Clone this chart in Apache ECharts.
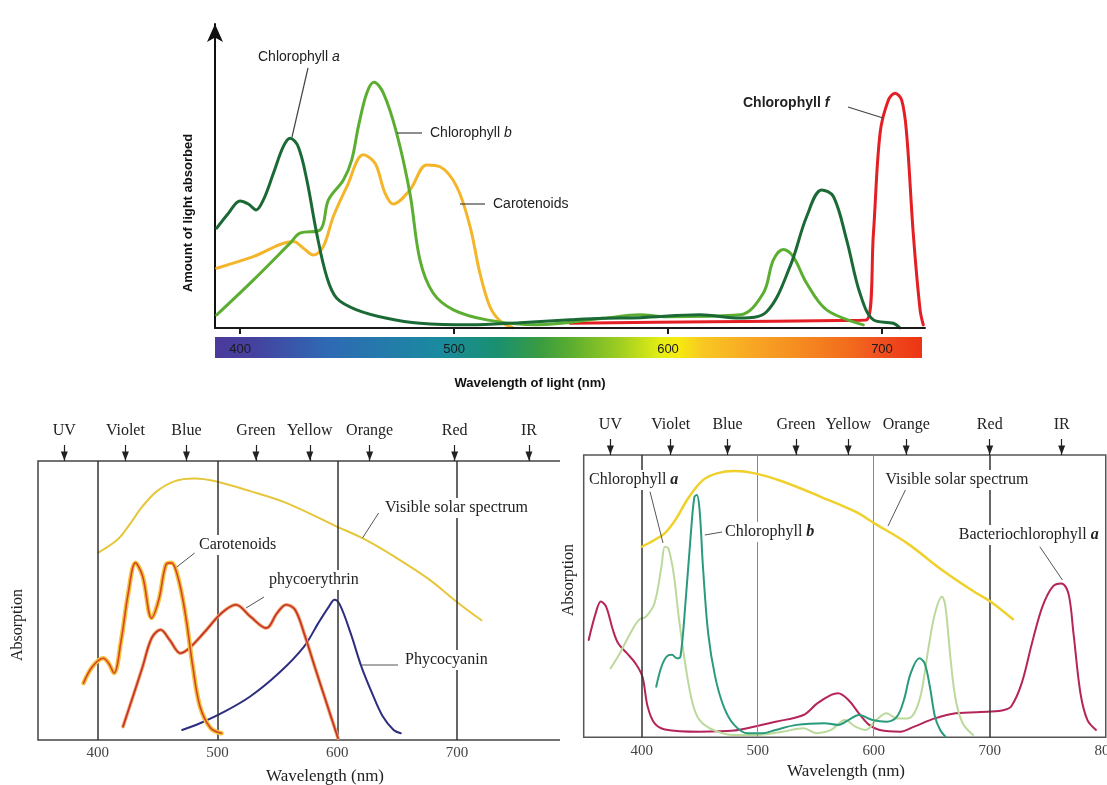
<!DOCTYPE html>
<html><head><meta charset="utf-8">
<script src="https://cdn.jsdelivr.net/npm/echarts@6/dist/echarts.min.js"></script>
<style>
html,body{margin:0;padding:0;background:#fff;width:1107px;height:785px;overflow:hidden;}
#top{position:absolute;left:0;top:0;width:1107px;height:400px;}
#blWrap{position:absolute;left:0;top:400px;width:560px;height:385px;overflow:hidden;}
#bl{position:absolute;left:0;top:0;width:620px;height:385px;}
#br{position:absolute;left:560px;top:400px;width:560px;height:385px;}
</style></head><body>
<div id="top"></div><div id="blWrap"><div id="bl"></div></div><div id="br"></div>
<script>
// ---------- TOP PANEL DATA (wavelength nm, relative absorption) ----------
var topTicks = [400, 500, 600, 700];
var topChlA = [[389.1,31.9],[394.5,36.6],[400,40.6],[403.9,39.6],[407.5,37.7],[410.9,40.9],[415.6,49.4],[420.2,57.9],[423.4,60.6],[427.2,57.9],[431.2,47.3],[435.8,30.3],[440.5,16.4],[445.2,9.5],[454.5,5.8],[468.6,3.1],[484.1,1.5],[507.5,1.0],[530.8,1.7],[554.2,2.6],[569.8,3.1],[587,3.3],[615,4.2],[633.6,3.2],[646.1,5.2],[657,19.6],[664.8,35.6],[671.8,44.1],[677.3,42],[683.5,28.1],[689.7,11.1],[696,2.6],[705.3,1.5],[708.4,0]];
var topChlB = [[389.1,4.2],[406.2,15.3],[423.4,27.1],[428,30.3],[437.4,31.3],[441.3,40.9],[448.3,47.3],[452.2,53.7],[455.3,64.3],[459.2,75],[462.6,78.5],[467,75],[473.2,62.2],[479.4,43],[484.1,21.7],[490.3,11.1],[499.7,5.8],[515.3,2.6],[538.7,1.0],[569.8,3.1],[586.9,4.2],[599.4,3.6],[633.6,4.2],[644.5,11.1],[649.2,21.7],[653.9,25.1],[658.5,22.8],[664.8,14.3],[674.1,5.8],[691.3,1.0]];
var topCarot = [[389.1,19.1],[406.2,22.8],[424.9,27.6],[429.6,25.5],[434.3,23.3],[438.9,26],[443.6,35.6],[449.9,45.1],[457.6,55.3],[463.1,52.6],[467.8,43],[471.6,39.6],[479.4,44.1],[487.2,52.1],[493.5,51.5],[501.3,45.1],[507.5,32.4],[512.1,17.5],[516.8,6.8],[521.5,2.3],[527.7,0]];
var topChlF = [[554.2,1.5],[620,2],[680,2.4],[692.8,2.6],[696,30.3],[699.1,62.2],[703,72.8],[706.1,75],[709.2,72.8],[711.5,62.2],[714.6,30.3],[717.8,5.8],[719.3,1]];

// ---------- BOTTOM-LEFT PANEL DATA ----------
var blBands = ['UV','Violet','Blue','Green','Yellow','Orange','Red','IR'];
var blBandPos = [372, 423, 474, 532, 577, 627, 698, 760];
var blTicks = [400, 500, 600, 700, 800];
var blVLines = [400, 500, 600, 700];
var blSolar = [[400,67.1],[416.5,71.9],[425.4,76.6],[437.4,83.8],[449.4,89.2],[464.4,92.8],[480.8,93.7],[497.3,92.8],[527.2,89.2],[557.2,85],[599.1,76.6],[623,71.9],[647,65.9],[676.9,57.5],[700.9,49.1],[720.4,42.9]];
var blCarot = [[388,20.4],[395.5,26.3],[404.5,29.3],[409,27.5],[413.5,24],[419.5,35.9],[425.4,52.7],[431.4,63.5],[437.4,58.7],[444.9,43.7],[450.9,50.3],[456.9,62.9],[461.4,63.5],[467.4,57.5],[473.4,44.3],[479.3,26.3],[485.3,12],[494.3,4.2],[503.3,2.4]];
var blPhycoE = [[421,4.8],[428.4,14.4],[437.4,26.3],[444.9,36.5],[452.4,39.5],[459.9,35.9],[468.9,31.1],[476.3,32.9],[488.3,38.3],[503.3,45.5],[515.3,48.5],[527.2,44.3],[540.7,40.1],[549.7,45.5],[557.2,48.5],[564.7,46.7],[572.2,38.3],[581.1,26.3],[590.1,14.4],[600.6,0.6]];
var blPhycoC = [[470.4,3.6],[485.3,6],[503.3,9.6],[527.2,15.6],[551.2,24],[572.2,33.5],[584.1,41.9],[593.1,47.9],[597.6,50.3],[602.1,48.5],[611.1,38.3],[620.1,26.3],[629,16.8],[638,8.4],[647,3.6],[653,2.4]];

// ---------- BOTTOM-RIGHT PANEL DATA ----------
var brBands = ['UV','Violet','Blue','Green','Yellow','Orange','Red','IR'];
var brBandPos = [373, 425, 474, 533, 578, 628, 700, 762];
var brTicks = [400, 500, 600, 700, 800];
var brVLines = [400, 500, 600, 700];
var brSolar = [[400,67.5],[411,69.9],[420,72.3],[429,77],[440.9,85.2],[452.8,91.1],[464.8,93.5],[479.7,94.3],[497.6,93.5],[521.5,90.6],[554.3,85.2],[584.2,79.9],[600.6,75.8],[629,68.7],[658.8,59.3],[688.7,51],[700.6,48.1],[720,41.8]];
var brChlA = [[373.1,24.4],[381.2,29.8],[390.1,36.8],[397.6,41.6],[403.6,42.7],[411,47.5],[417,60.4],[420,67.5],[423,66.9],[427.5,58.1],[431.9,42.7],[437.9,25],[443.9,12],[449.9,6.1],[461.8,2.6],[479.7,0.8],[497.6,0.8],[521.5,2],[539.4,3.2],[551.3,1.4],[563.3,2.6],[575.2,6.1],[584.2,3.8],[593.1,2.6],[602.1,6.1],[611,8.5],[620,6.7],[629,6.7],[634.9,8.5],[640.9,15.6],[646.9,30.9],[652.8,43.9],[658.8,49.8],[661.8,46.3],[666.3,27.4],[670.7,13.2],[676.7,5],[685.7,0.8]];
var brChlB = [[412.5,17.9],[417,25],[421.5,28.6],[426,29.2],[430.4,28],[433.4,28.6],[437.9,48.6],[442.4,72.3],[445.4,85.2],[447.5,85.8],[449.9,80.5],[452.8,60.4],[457.3,36.8],[463.3,21.5],[470.7,10.9],[479.7,4.4],[491.6,1.4],[503.6,1.4],[515.5,2.6],[533.4,4.4],[557.3,5],[569.3,4.4],[578.2,6.1],[587.2,7.9],[599.1,6.1],[611,5.5],[620,7.3],[626,13.2],[631.9,22.7],[639.4,28],[643.9,26.2],[648.4,17.9],[652.8,7.3],[657.3,2.6],[661.8,0.2]];
var brBchlA = [[354.3,34.5],[360.3,43.9],[364.8,48.1],[369.3,46.3],[375.2,38],[379.7,33.3],[387.2,29.8],[394.6,26.2],[400.6,21.5],[405.1,10.9],[411,5],[420,2.8],[449.9,2],[479.7,2.4],[497.6,3.8],[515.5,5.5],[539.4,7.9],[551.3,12],[563.3,15],[569.3,15.6],[578.2,13.2],[587.2,8.5],[596.1,4.4],[605.1,2.6],[623,2],[634.9,3.8],[652.8,6.7],[670.7,8.5],[700.6,9.1],[712.5,9.7],[718.5,10.9],[727.5,19.1],[736.4,33.3],[745.4,46.3],[754.3,53.4],[761.8,54.5],[767.8,51],[772.2,36.8],[778.2,15.6],[784.2,6.1],[791.6,2.6]];

var SANS = "'Liberation Sans', Arial, sans-serif";
var SERIF = "'Liberation Serif', 'DejaVu Serif', serif";

function ln(data, color, width, z) {
  return {type:'line', data:data, smooth:0.35, symbol:'none', silent:true,
    lineStyle:{color:color, width:width, cap:'round', join:'round'}, itemStyle:{color:color}, z:z||2};
}
function txt(x, y, text, font, extra) {
  var st = {x:x, y:y, text:text, font:font, fill:'#222', align:'left', verticalAlign:'middle'};
  for (var k in (extra||{})) st[k] = extra[k];
  return {type:'text', z:100, style:st};
}
function seg(x1,y1,x2,y2,color,w) {
  return {type:'line', z:100, shape:{x1:x1,y1:y1,x2:x2,y2:y2}, style:{stroke:color||'#333', lineWidth:w||1.2}};
}

// ================= TOP CHART =================
var c1 = echarts.init(document.getElementById('top'));
c1.setOption({
  animation:false,
  grid:{left:215, right:182, top:24, bottom:72},
  xAxis:{type:'value', min:388.3, max:720.1, z:10,
    axisLine:{lineStyle:{color:'#1a1a1a', width:2}},
    axisTick:{customValues:topTicks, length:6, lineStyle:{color:'#1a1a1a', width:2}},
    axisLabel:{customValues:topTicks, margin:15, fontSize:13, color:'#1a1a1a', fontFamily:SANS},
    splitLine:{show:false}},
  yAxis:{type:'value', min:0, max:97.1,
    axisLine:{show:true, lineStyle:{color:'#111', width:2}, symbol:['none','arrow'], symbolSize:[12,18]},
    axisTick:{show:false}, axisLabel:{show:false}, splitLine:{show:false}},
  graphic:[
    {type:'rect', z:1, shape:{x:215, y:337, width:707, height:21}, style:{fill:new echarts.graphic.LinearGradient(0,0,1,0,[
      {offset:0,color:'#4a3a9c'},{offset:0.05,color:'#46409e'},{offset:0.16,color:'#2e6ab4'},{offset:0.316,color:'#1a8aa0'},
      {offset:0.40,color:'#1a9070'},{offset:0.46,color:'#3a9c40'},{offset:0.50,color:'#58ac30'},{offset:0.57,color:'#9ccc22'},
      {offset:0.63,color:'#e4ee14'},{offset:0.655,color:'#f6ea10'},{offset:0.69,color:'#f8c822'},{offset:0.76,color:'#f8a624'},
      {offset:0.83,color:'#f58a20'},{offset:0.90,color:'#f26a1c'},{offset:0.94,color:'#f05020'},{offset:1,color:'#ec3414'}])}},
    txt(258, 57, 'Chlorophyll {i|a}', '14px '+SANS, {rich:{i:{fontStyle:'italic', fontSize:14, fontFamily:SANS, fill:'#222'}}}),
    seg(308,68,292,137,'#444',1.2),
    txt(430, 133, 'Chlorophyll {i|b}', '14px '+SANS, {rich:{i:{fontStyle:'italic', fontSize:14, fontFamily:SANS, fill:'#222'}}}),
    seg(397,133,422,133,'#444',1.2),
    txt(493, 204, 'Carotenoids', '14px '+SANS),
    seg(460,204,485,204,'#444',1.2),
    txt(743, 103, 'Chlorophyll {i|f}', 'bold 14px '+SANS, {rich:{i:{fontStyle:'italic', fontWeight:'bold', fontSize:14, fontFamily:SANS, fill:'#222'}}}),
    seg(848,107,883,118,'#444',1.2),
    {type:'text', z:100, x:188, y:213, rotation:Math.PI/2, style:{text:'Amount of light absorbed', font:'bold 13px '+SANS, fill:'#111', align:'center', verticalAlign:'middle'}},
    txt(530, 383, 'Wavelength of light (nm)', 'bold 13px '+SANS, {align:'center', fill:'#111'})
  ],
  series:[
    ln(topChlF, '#e31e24', 3, 2),
    ln(topCarot, '#f5b52a', 3, 3),
    ln(topChlB, '#5cae32', 3, 4),
    ln(topChlA, '#1b6a36', 3, 5)
  ]
});

// ================= BOTTOM PANELS =================
function bandAxis(names, pos, min, max) {
  return {type:'value', position:'top', min:min, max:max,
    axisLine:{show:false}, splitLine:{show:false},
    axisTick:{show:true, customValues:pos, length:16, lineStyle:{color:'#222', width:1.2}},
    axisLabel:{customValues:pos, margin:22, fontSize:16, color:'#222', fontFamily:SERIF,
      formatter:function(v){ var i = pos.indexOf(v); return i>=0 ? names[i] : ''; }}};
}
function bottomAxis(ticks, min, max, color) {
  return {type:'value', position:'bottom', min:min, max:max,
    axisLine:{show:false}, axisTick:{show:false}, splitLine:{show:false},
    axisLabel:{customValues:ticks, margin:6, fontSize:15, color:color, fontFamily:SERIF}};
}
function arrowHeads(pos) {
  return {silent:true, symbol:'triangle', symbolRotate:180, symbolSize:[7,9], symbolOffset:[0,-5],
    itemStyle:{color:'#222'}, label:{show:false}, data:pos.map(function(p){return {coord:[p,100]};})};
}

// ---- bottom-left ----
var c2 = echarts.init(document.getElementById('bl'));
var blSolarSeries = ln(blSolar, '#e6c63a', 2, 3);
blSolarSeries.markLine = {silent:true, symbol:['none','none'], label:{show:false},
  lineStyle:{color:'#333', width:1.5, type:'solid'}, data:blVLines.map(function(v){return {xAxis:v};})};
blSolarSeries.markPoint = arrowHeads(blBandPos);
c2.setOption({
  animation:false,
  grid:{left:38, right:43.2, top:61, bottom:45, show:true, borderColor:'#444', borderWidth:1.5, backgroundColor:'transparent'},
  xAxis:[bottomAxis(blTicks, 350, 800, '#444'), bandAxis(blBands, blBandPos, 350, 800)],
  yAxis:{type:'value', min:0, max:100, show:false},
  graphic:[
    txt(384, 108, 'Visible solar spectrum', '16px '+SERIF, {backgroundColor:'#fff', padding:[2,1]}),
    seg(378.6,113,362.5,138,'#555',1),
    txt(198, 145, 'Carotenoids', '16px '+SERIF, {backgroundColor:'#fff', padding:[2,1]}),
    seg(194.6,153,176.8,167,'#555',1),
    txt(268, 180, 'phycoerythrin', '16px '+SERIF, {backgroundColor:'#fff', padding:[2,1]}),
    seg(264,197,246,208,'#555',1),
    txt(404, 260, 'Phycocyanin', '16px '+SERIF, {backgroundColor:'#fff', padding:[2,1]}),
    seg(398,265,361,265,'#555',1),
    {type:'text', z:100, x:18, y:225, rotation:Math.PI/2, style:{text:'Absorption', font:'16px '+SERIF, fill:'#222', align:'center', verticalAlign:'middle'}},
    txt(325, 377, 'Wavelength (nm)', '17px '+SERIF, {align:'center'})
  ],
  series:[
    blSolarSeries,
    ln(blPhycoC, '#2d2d80', 2, 4),
    ln(blPhycoE, '#eea060', 3.5, 5),
    ln(blPhycoE, '#c4302c', 1.6, 6),
    ln(blCarot, '#f4c23a', 4.5, 7),
    ln(blCarot, '#d4452a', 1.6, 8)
  ]
});

// ---- bottom-right ----
var c3 = echarts.init(document.getElementById('br'));
var brSolarSeries = ln(brSolar, '#f0d02a', 2.5, 6);
brSolarSeries.markLine = {silent:true, symbol:['none','none'], label:{show:false},
  data:brVLines.map(function(v){
    var dark = (v===400 || v===700);
    return {xAxis:v, lineStyle:{color: dark?'#333':'#888', width: dark?1.5:1, type:'solid'}};
  })};
brSolarSeries.markPoint = arrowHeads(brBandPos);
c3.setOption({
  animation:false,
  grid:{left:23.7, right:11.1, top:55, bottom:47.7, show:true, borderColor:'#555', borderWidth:1.5, backgroundColor:'transparent'},
  xAxis:[bottomAxis(brTicks, 350, 800, '#444'), bandAxis(brBands, brBandPos, 350, 800)],
  yAxis:{type:'value', min:0, max:100, show:false},
  graphic:[
    txt(28, 80, 'Chlorophyll {i|a}', '16px '+SERIF, {backgroundColor:'#fff', padding:[2,1], rich:{i:{fontStyle:'italic', fontWeight:'bold', fontSize:16, fontFamily:SERIF, fill:'#222'}}}),
    seg(90,91.7,103,143,'#555',1),
    txt(164, 132, 'Chlorophyll {i|b}', '16px '+SERIF, {backgroundColor:'#fff', padding:[2,1], rich:{i:{fontStyle:'italic', fontWeight:'bold', fontSize:16, fontFamily:SERIF, fill:'#222'}}}),
    seg(144.8,135,162,132,'#555',1),
    txt(324.5, 80, 'Visible solar spectrum', '16px '+SERIF, {backgroundColor:'#fff', padding:[2,1]}),
    seg(345.4,90,328,126,'#555',1),
    txt(397.8, 135, 'Bacteriochlorophyll {i|a}', '16px '+SERIF, {backgroundColor:'#fff', padding:[2,1], rich:{i:{fontStyle:'italic', fontWeight:'bold', fontSize:16, fontFamily:SERIF, fill:'#222'}}}),
    seg(479.8,146.7,502.4,180,'#555',1),
    {type:'text', z:100, x:9, y:180, rotation:Math.PI/2, style:{text:'Absorption', font:'16px '+SERIF, fill:'#222', align:'center', verticalAlign:'middle'}},
    txt(286, 372, 'Wavelength (nm)', '17px '+SERIF, {align:'center'})
  ],
  series:[
    ln(brBchlA, '#b5245a', 2, 2),
    ln(brChlA, '#bcd99c', 2, 3),
    ln(brChlB, '#2a9a7c', 2, 4),
    brSolarSeries
  ]
});
</script></body></html>
